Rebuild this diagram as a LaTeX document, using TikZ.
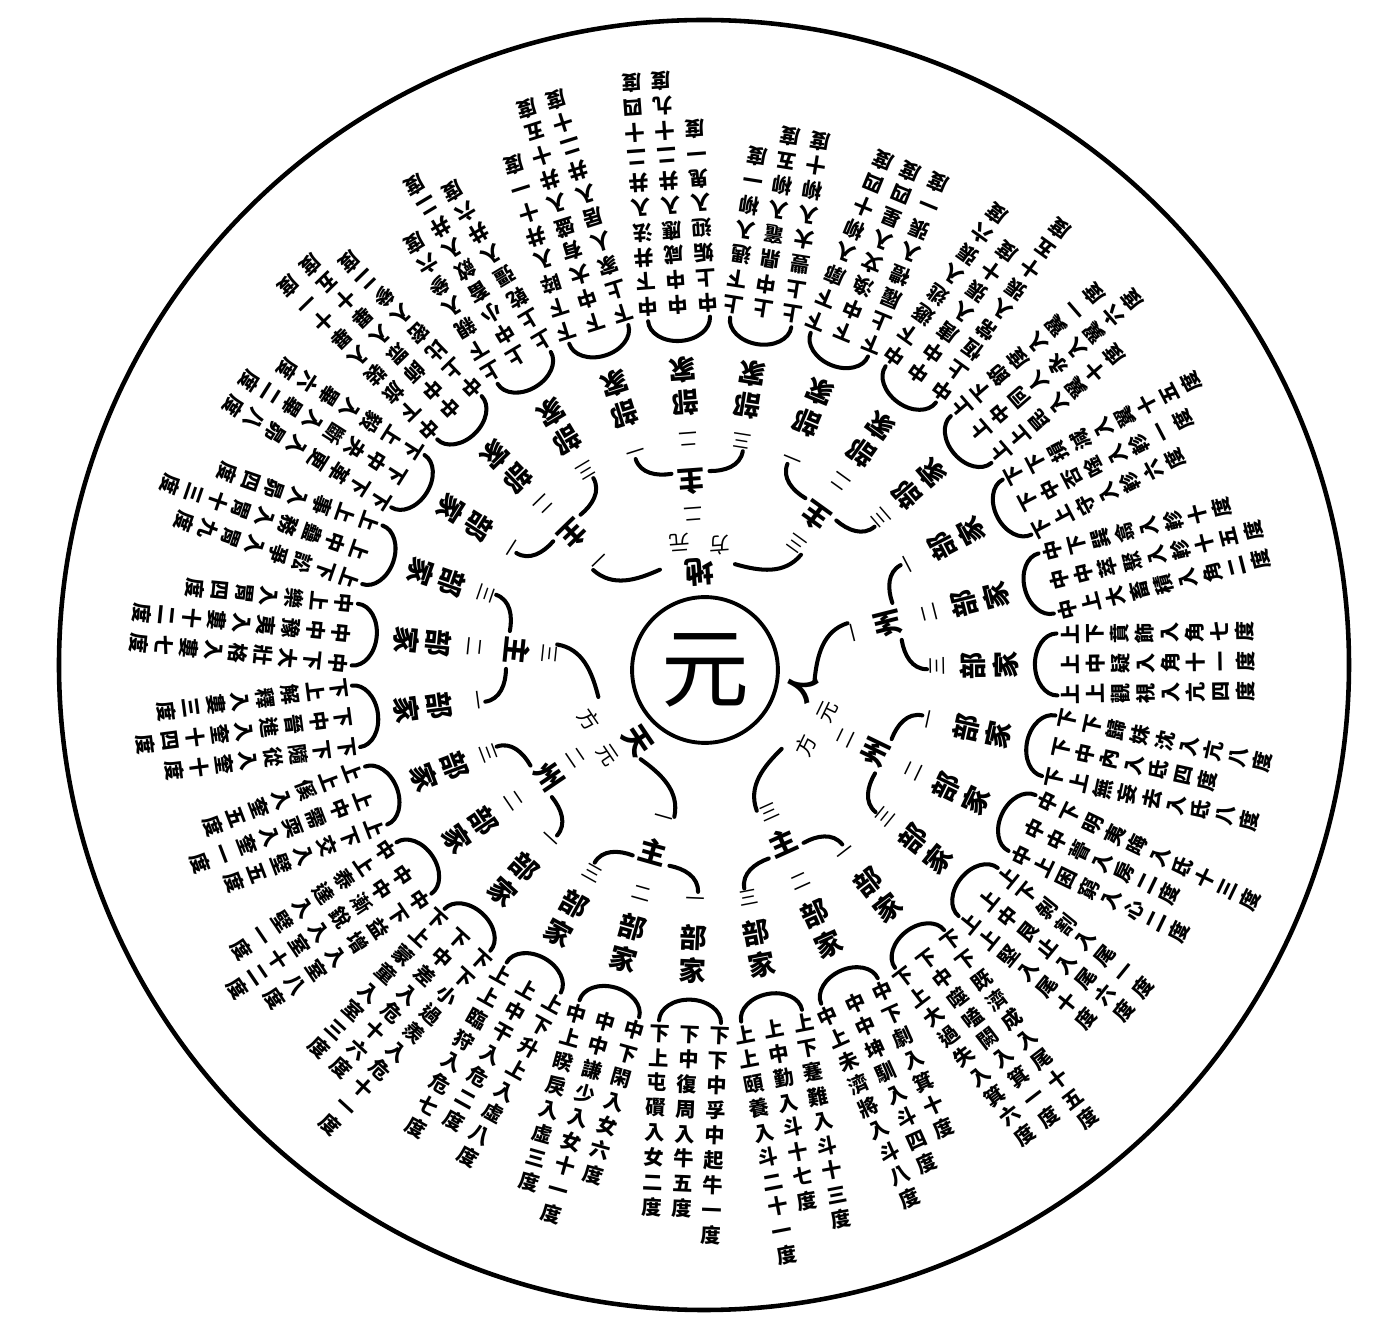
\documentclass[tikz,border=0pt]{standalone}
\usepackage{fontspec}
\newfontfamily\cjk{Noto Sans CJK TC}
\makeatletter
% stack the characters of a text one under the other
\def\vstack#1{\vst@b#1\@nil}
\def\vst@b#1{#1\vst@a}
\def\vst@a#1{\ifx#1\@nil\else\\#1\expandafter\vst@a\fi}
\def\vstackm#1{\expandafter\vstack\expandafter{#1}}
\makeatother
\tikzset{
  brace/.style={line width=2.3pt, line cap=round},
  colbox/.style={font=\cjk\bfseries\fontsize{11.5}{14.2}\selectfont, align=center, inner sep=0pt, anchor=north, rotate=180},
  bulab/.style={font=\cjk\bfseries\fontsize{15.5}{18.8}\selectfont, align=center, inner sep=0pt, anchor=north, rotate=180},
  numlab/.style={font=\cjk\fontsize{11}{11}\selectfont, inner sep=0pt},
  zhoulab/.style={font=\cjk\bfseries\fontsize{16}{16}\selectfont, inner sep=0pt},
  fangbig/.style={font=\cjk\bfseries\fontsize{17}{17}\selectfont, inner sep=0pt},
  fangsmall/.style={font=\cjk\fontsize{12}{12}\selectfont, inner sep=0pt}
}
\begin{document}
\begin{tikzpicture}[x=0.02cm, y=0.02cm]
\useasboundingbox (-705,-668) rectangle (678,670);
\draw[line width=2.6pt] (-1,5) circle[radius=645];
\node[draw, circle, line width=2.2pt, minimum size=83pt, inner sep=0pt,
      font=\cjk\fontsize{50}{50}\selectfont] (yuan) at (0,0) {元};
% three fang
\foreach \f/\ch/\dd in {0/天/12, 1/地/-1, 2/人/16} {
  \pgfmathsetmacro\th{-145.8-120*\f}
  \node[fangbig, rotate=\th+90] (fang\f) at ({\th+\dd}:98) {\ch};
  \node[fangsmall, rotate=\th+90] (fangy\f) at ({\th+7}:130) {元};
  \node[fangsmall, rotate=\th+90] (fangf\f) at ({\th-11}:126) {方};
  \draw[brace] ({\th+20}:110) to[out={\th+110}, in={\th+224}] ({\th+44}:150);
  \draw[brace] ({\th-20}:110) to[out={\th-110}, in={\th+136}] ({\th-44}:150);
}
% nine zhou
\foreach \z/\ch in {0/主,1/州,2/主,3/主,4/主,5/主,6/州,7/州,8/主} {
  \pgfmathsetmacro\th{-105.8-40*\z}
  \pgfmathtruncatemacro\nm{mod(\z,3)}
  \node[numlab, rotate=\th+90] (zn\z) at (\th:156) {\ifcase\nm 一\or 二\or 三\fi};
  \node[zhoulab, rotate=\th+90] (zhou\z) at (\th:189) {\ch};
  \draw[brace] ({\th+5.5}:199) to[out={\th+95}, in={\th+194}] ({\th+14}:222);
  \draw[brace] ({\th-5.5}:199) to[out={\th-95}, in={\th+166}] ({\th-14}:222);
}
% twenty-seven bu
\foreach \p in {0,...,26} {
  \pgfmathsetmacro\ph{-92.44-13.333*\p}
  \pgfmathtruncatemacro\nm{mod(\p,3)}
  \begin{scope}[rotate=\ph-90, transform shape]
    \node[numlab, rotate=180] (bn\p) at (0,232) {\ifcase\nm 一\or 二\or 三\fi};
    \node[bulab] (bu\p) at (0,254) {\vstack{部家}};
    \draw[brace] (-31,352) arc[start angle=180, end angle=360, x radius=31, y radius=22];
  \end{scope}
}
% eighty-one jia
\foreach \k/\txt in {1/下下中孚中起牛一度, 2/下中復周入牛五度, 3/下上屯礥入女二度,
  4/中下閑入女六度, 5/中中謙少入女十一度, 6/中上睽戾入虛三度,
  7/上下升上入虛八度, 8/上中干入危二度, 9/上上臨狩入危七度,
  10/下下小過羨入危十一度, 11/下中差入危十六度, 12/下上蒙童入室三度,
  13/中下益增入室八度, 14/中中漸銳入室十二度, 15/中上泰達入壁一度,
  16/上下交入壁五度, 17/上中需耎入奎一度, 18/上上傒入奎五度,
  19/下下隨從入奎十度, 20/下中晉進入奎十四度, 21/下上解釋入婁三度,
  22/中下大壯格入婁七度, 23/中中豫夷入婁十二度, 24/中上樂入胃四度,
  25/上下訟爭入胃九度, 26/上中蠱務入胃十三度, 27/上上事入昴四度,
  28/下下革更入昴八度, 29/下中夬斷入畢二度, 30/下上毅入畢六度,
  31/中下旅裝入畢十一度, 32/中中師眾入畢十五度, 33/中上比密入參二度,
  34/上下親入參六度, 35/上中小畜斂入井二度, 36/上上乾彊入井六度,
  37/下下睟入井十一度, 38/下中大有盛入井十五度, 39/下上家人居入井二十度,
  40/中下井法入井二十四度, 41/中中咸應入井二十九度, 42/中上姤迎入鬼一度,
  43/上下遇入柳一度, 44/上中鼎竈入柳五度, 45/上上豐大入柳十度,
  46/下下廓入柳十四度, 47/下中渙文入星四度, 48/下上履禮入張一度,
  49/中下遯逃入張六度, 50/中中唐入張十度, 51/中上恆常入張十五度,
  52/上下節度入翼一度, 53/上中同人永入翼六度, 54/上上昆入翼十度,
  55/下下損減入翼十五度, 56/下中否唫入軫一度, 57/下上守入軫六度,
  58/中下巽翕入軫十度, 59/中中萃聚入軫十五度, 60/中上大畜積入角二度,
  61/上下賁飾入角七度, 62/上中疑入角十一度, 63/上上觀視入亢四度,
  64/下下歸妹沈入亢八度, 65/下中內入氐四度, 66/下上無妄去入氐八度,
  67/中下明夷晦入氐十三度, 68/中中瞢入房二度, 69/中上困窮入心二度,
  70/上下剝割入尾一度, 71/上中艮止入尾六度, 72/上上堅入尾十度,
  73/下下既濟成入尾十五度, 74/下中噬嗑闕入箕一度, 75/下上大過失入箕六度,
  76/中下劇入箕十度, 77/中中坤馴入斗四度, 78/中上未濟將入斗八度,
  79/上下蹇難入斗十三度, 80/上中勤入斗十七度, 81/上上頤養入斗二十一度} {
  \pgfmathtruncatemacro\p{(\k-1)/3}
  \pgfmathtruncatemacro\i{mod(\k-1,3)}
  \pgfmathsetmacro\ph{-92.44-13.333*\p}
  \begin{scope}[rotate=\ph-90, transform shape]
    \node[colbox] (jia\k) at ({(\i-1)*30},356) {\vstackm{\txt}};
  \end{scope}
}
\end{tikzpicture}
\end{document}
